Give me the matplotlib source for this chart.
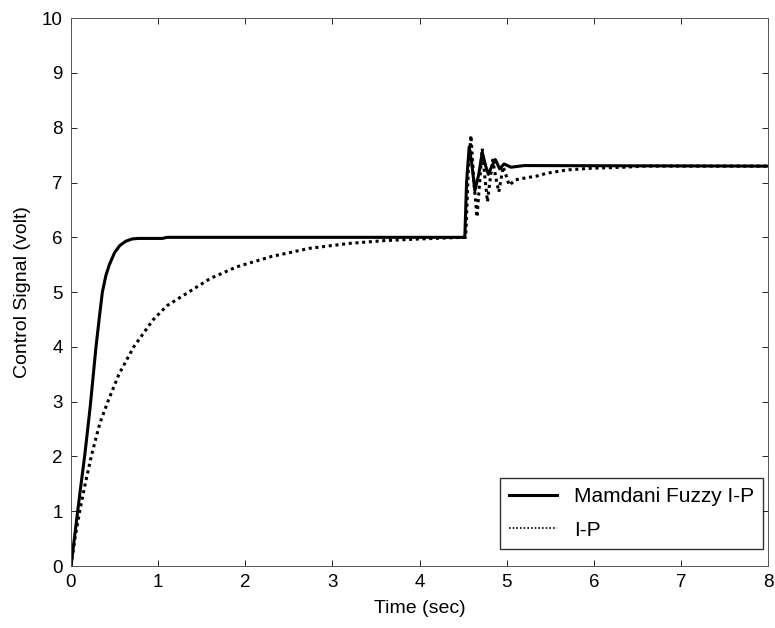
import matplotlib
matplotlib.use("Agg")
import matplotlib.pyplot as plt

plt.rcParams["font.family"] = ["Liberation Sans", "DejaVu Sans"]

# Mamdani Fuzzy I-P response (time in sec, control signal in volt)
fuzzy_t = [0.0, 0.05, 0.10, 0.16, 0.22, 0.287, 0.33, 0.36, 0.40, 0.44, 0.50, 0.56,
           0.63, 0.70, 0.77, 1.05, 1.10, 4.50, 4.52, 4.54, 4.57, 4.60, 4.635, 4.68,
           4.72, 4.76, 4.79, 4.83, 4.87, 4.92, 4.97, 5.05, 5.20, 8.0]
fuzzy_v = [0.0, 0.65, 1.3, 2.05, 2.9, 4.0, 4.6, 5.0, 5.3, 5.5, 5.72, 5.85,
           5.93, 5.97, 5.98, 5.98, 6.0, 6.0, 6.0, 7.0, 7.65, 7.35, 6.85, 7.15,
           7.55, 7.3, 7.15, 7.3, 7.42, 7.25, 7.34, 7.28, 7.31, 7.3]

# conventional I-P response
ip_t = [0.0, 0.05, 0.10, 0.17, 0.24, 0.33, 0.43, 0.55, 0.72, 0.94, 1.10, 1.33,
        1.60, 1.90, 2.30, 2.74, 3.20, 3.60, 4.00, 4.50, 4.53, 4.56, 4.59, 4.625,
        4.66, 4.69, 4.72, 4.75, 4.78, 4.81, 4.84, 4.875, 4.91, 4.94, 4.96, 5.00,
        5.03, 5.10, 5.20, 5.35, 5.46, 5.69, 5.96, 6.34, 6.60, 8.0]
ip_v = [0.0, 0.55, 1.0, 1.55, 2.05, 2.6, 3.03, 3.5, 4.0, 4.49, 4.75, 4.98,
        5.25, 5.46, 5.65, 5.8, 5.89, 5.94, 5.97, 6.0, 6.0, 7.2, 7.86, 7.0,
        6.37, 7.0, 7.62, 7.1, 6.65, 7.05, 7.41, 7.1, 6.83, 7.1, 7.29, 7.1,
        6.95, 7.05, 7.08, 7.12, 7.17, 7.23, 7.26, 7.28, 7.3, 7.3]

fig = plt.figure(figsize=(7.75, 6.28), dpi=100)
ax = fig.add_axes([0.0916, 0.0987, 0.8994, 0.8723])

ax.plot(fuzzy_t, fuzzy_v, color="black", linewidth=2.2, label="Mamdani Fuzzy I-P")
ax.plot(ip_t, ip_v, color="black", linewidth=2.2, linestyle=(0, (1, 1.2)), label="I-P")

ax.set_xlim(0, 8)
ax.set_ylim(0, 10)
ax.set_xticks(range(0, 9))
ax.set_yticks(range(0, 11))
ax.tick_params(direction="in", length=4, width=0.6, labelsize=13.5, pad=6,
               top=True, right=True)
for s in ax.spines.values():
    s.set_linewidth(0.7)
    s.set_color("#555555")

ax.set_xlabel("Time (sec)", fontsize=14, labelpad=6)
ax.set_ylabel("Control Signal (volt)", fontsize=14, labelpad=8)

leg = ax.legend(loc="lower right", fontsize=15, frameon=True, fancybox=False,
                edgecolor="black", handlelength=2.3, handletextpad=0.8,
                borderpad=0.45, labelspacing=0.7, borderaxespad=0,
                bbox_to_anchor=(0.993, 0.031))
leg.get_frame().set_linewidth(1.0)
leg.get_lines()[1].set_linewidth(1.2)

fig.savefig("out.png", dpi=100)
